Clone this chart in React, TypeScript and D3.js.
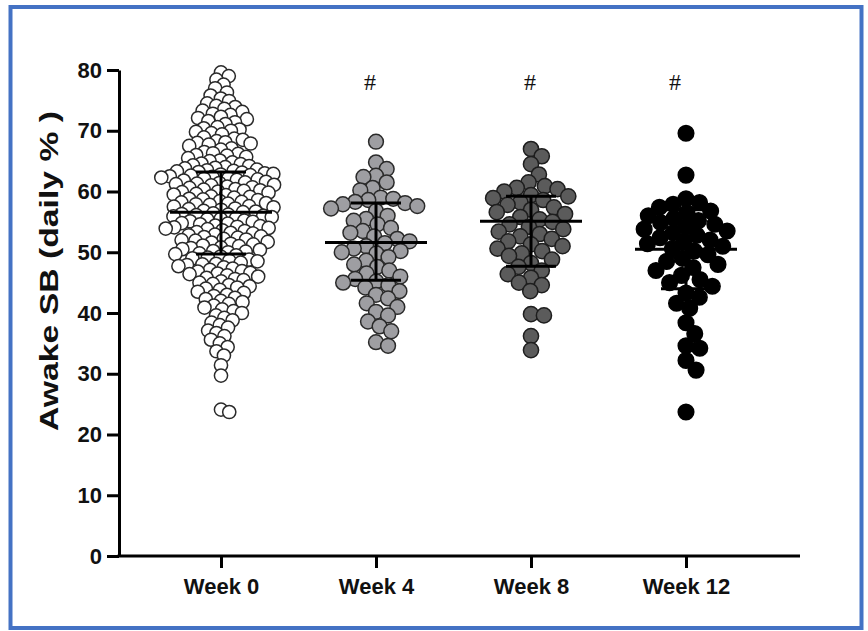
import React, { useEffect, useRef } from "react";
import * as d3 from "d3";

const categories = ["Week 0", "Week 4", "Week 8", "Week 12"];

const week0 = [
  79.6, 79.0, 78.4, 77.6, 77.0, 76.3,
  75.8, 75.3, 74.9, 74.5, 74.1,
  73.9, 73.6, 73.3, 73.1, 72.8, 72.6, 72.3, 72.1,
  71.9, 71.6, 71.4, 71.1, 70.6, 70.4, 70.2, 70.0,
  69.8, 69.6, 69.4, 68.9, 68.7, 68.5, 68.3, 68.1, 68.0,
  67.9, 67.7, 67.5, 67.1, 66.9, 66.5, 66.3, 66.2, 66.0,
  65.9, 65.7, 65.5, 65.1, 65.0, 64.8, 64.6, 64.5, 64.3, 64.2, 64.0,
  63.9, 63.8, 63.6, 63.5, 63.4, 63.3, 63.2, 63.1, 63.0, 62.9, 62.8, 62.7, 62.6, 62.5, 62.4, 62.3, 62.2, 62.1, 62.0,
  61.9, 61.8, 61.6, 61.5, 61.4, 61.3, 61.2, 61.1, 61.0, 60.8, 60.7, 60.6, 60.4, 60.3, 60.2, 60.1, 60.0,
  59.9, 59.8, 59.6, 59.5, 59.4, 59.2, 59.1, 59.0, 58.8, 58.7, 58.6, 58.4, 58.3, 58.2, 58.1, 58.0,
  57.9, 57.8, 57.6, 57.5, 57.4, 57.2, 57.1, 57.0, 56.8, 56.7, 56.6, 56.4, 56.3, 56.2, 56.1, 56.0,
  55.9, 55.8, 55.6, 55.5, 55.4, 55.2, 55.1, 55.0, 54.8, 54.7, 54.6, 54.4, 54.3, 54.2, 54.1, 54.0,
  53.9, 53.8, 53.6, 53.5, 53.3, 53.2, 53.1, 52.9, 52.8, 52.6, 52.5, 52.4, 52.2, 52.1, 52.0,
  51.9, 51.7, 51.6, 51.4, 51.3, 51.1, 51.0, 50.8, 50.7, 50.5, 50.4, 50.2, 50.1, 50.0,
  49.8, 49.7, 49.5, 49.3, 49.1, 49.0, 48.8, 48.6, 48.5, 48.3, 48.1, 48.0,
  47.9, 47.7, 47.5, 47.3, 47.1, 46.9, 46.8, 46.6, 46.5, 46.4, 46.2, 46.0,
  45.8, 45.6, 45.4, 45.2, 45.0, 44.8, 44.6, 44.4, 44.2, 44.0,
  43.8, 43.5, 43.3, 43.0, 42.8, 42.5, 42.3, 42.0,
  41.8, 41.5, 41.2, 40.9, 40.6, 40.3, 40.0,
  39.6, 39.2, 38.8, 38.4, 38.0, 37.6, 37.1, 36.7, 36.2,
  35.6, 35.0, 34.4, 33.7, 33.0, 31.4, 29.7, 24.1, 23.7
];

const week4 = [
  68.2, 64.8, 63.7, 62.6, 62.4, 61.5, 60.6, 60.2, 59.0, 58.8, 58.6, 58.3, 58.1, 57.9,
  57.6, 57.2, 56.8, 56.0, 55.5, 55.2, 54.6, 54.0, 53.5, 53.2, 52.6, 52.2, 51.8, 51.5,
  51.0, 50.6, 50.2, 50.0, 49.8, 49.2, 48.6, 48.0, 47.6, 47.0, 46.5, 46.0, 45.6, 45.2,
  45.0, 44.6, 44.2, 43.6, 43.0, 42.4, 41.6, 41.0, 40.2, 39.6, 38.6, 37.8, 37.0, 35.2, 34.6
];

const week8 = [
  67.0, 65.8, 64.5, 62.8, 61.5, 60.9, 60.6, 60.4, 60.0, 59.4, 59.2, 58.9, 58.6, 58.2,
  57.8, 57.4, 57.0, 56.6, 56.3, 55.8, 55.4, 55.0, 54.6, 54.2, 53.8, 53.4, 53.0, 52.6,
  52.2, 51.8, 51.3, 51.0, 50.6, 50.2, 49.8, 49.4, 48.8, 48.2, 47.6, 47.0, 46.4, 45.8,
  45.0, 44.6, 43.6, 39.8, 39.6, 36.2, 33.9
];

const week12 = [
  69.6, 62.7, 58.8, 58.2, 57.9, 57.4, 56.8, 56.5, 56.0, 55.6, 55.2, 54.9, 54.6, 54.2,
  53.8, 53.5, 53.2, 52.8, 52.4, 52.0, 51.8, 51.4, 51.0, 50.6, 50.2, 49.6, 49.0, 48.5,
  48.0, 47.5, 47.0, 46.2, 45.5, 45.0, 44.4, 43.3, 42.6, 41.6, 40.8, 38.4, 36.6, 34.6,
  34.2, 32.2, 30.6, 23.7
];

// mean and SD ends
const means = [56.6, 51.6, 55.1, 50.5];
const sdLow = [49.7, 45.4, 47.7, 44.0];
const sdHigh = [63.2, 58.1, 59.2, 57.0];
const marks = ["", "#", "#", "#"];
const markShift = [0, -6, -1, -11];

const fills = ["#ffffff", "#9e9ea2", "#5b5b5b", "#000000"];
const strokes = ["#2a2a2a", "#2a2a2a", "#1e1e1e", "#000000"];
const radius = [6.6, 7.4, 7.6, 7.8];
const spacing = [8.6, 12.6, 13.0, 14.0];

function swarm(values, yScale, cx, d) {
  const pts = values.map(v => ({ v: v, y: yScale(v), x: 0 }));
  pts.sort((a, b) => a.y - b.y);
  const placed = [];
  pts.forEach(p => {
    const near = placed.filter(q => Math.abs(q.y - p.y) < d);
    let cands = [0];
    near.forEach(q => {
      const dx = Math.sqrt(d * d - (q.y - p.y) * (q.y - p.y));
      cands.push(q.x + dx, q.x - dx);
    });
    cands.sort((a, b) => Math.abs(a) - Math.abs(b));
    for (const c of cands) {
      const ok = near.every(q => (q.x - c) * (q.x - c) + (q.y - p.y) * (q.y - p.y) >= d * d - 0.01);
      if (ok) { p.x = c; break; }
    }
    placed.push(p);
  });
  return pts.map(p => ({ v: p.v, x: cx + p.x, y: p.y }));
}

export default function App() {
  const ref = useRef(null);

  useEffect(() => {
    const svg = d3.select(ref.current);
    svg.selectAll("*").remove();

    const font = "'Liberation Sans', Arial, sans-serif";
    const y = d3.scaleLinear().domain([0, 80]).range([556, 70]);
    const x = d3.scalePoint().domain(categories).range([221, 686]);
    const groups = [week0, week4, week8, week12];

    // frame
    svg.append("rect")
      .attr("x", 10.5).attr("y", 7).attr("width", 851).attr("height", 621)
      .attr("fill", "none").attr("stroke", "#4472c4").attr("stroke-width", 4);

    // Y axis
    const yAxis = svg.append("g").attr("transform", "translate(119,0)")
      .call(d3.axisLeft(y).tickValues(d3.range(0, 81, 10)).tickSize(12).tickSizeOuter(0).tickPadding(5));
    yAxis.select(".domain").attr("stroke", "#000").attr("stroke-width", 3);
    yAxis.selectAll(".tick line").attr("stroke", "#000").attr("stroke-width", 3);
    yAxis.selectAll(".tick text")
      .style("font-family", font).style("font-size", "22px").style("font-weight", "bold").attr("fill", "#111");

    // X axis
    svg.append("line")
      .attr("x1", 117.5).attr("x2", 800).attr("y1", 556).attr("y2", 556)
      .attr("stroke", "#000").attr("stroke-width", 3);
    const xAxis = svg.append("g").attr("transform", "translate(0,556)")
      .call(d3.axisBottom(x).tickSize(12).tickSizeOuter(0).tickPadding(10));
    xAxis.select(".domain").remove();
    xAxis.selectAll(".tick line").attr("stroke", "#000").attr("stroke-width", 3);
    xAxis.selectAll(".tick text")
      .style("font-family", font).style("font-size", "22px").style("font-weight", "bold").attr("fill", "#111");

    // Y axis title
    svg.append("text")
      .attr("transform", "translate(58,271) rotate(-90)")
      .attr("text-anchor", "middle")
      .attr("textLength", 320)
      .attr("lengthAdjust", "spacingAndGlyphs")
      .style("font-family", font).style("font-size", "25px").style("font-weight", "bold")
      .attr("fill", "#111")
      .text("Awake SB (daily % )");

    // points
    groups.forEach((vals, i) => {
      const pts = swarm(vals, y, x(categories[i]), spacing[i]);
      svg.append("g").selectAll("circle")
        .data(pts)
        .join("circle")
        .attr("cx", d => d.x)
        .attr("cy", d => d.y)
        .attr("r", radius[i])
        .attr("fill", fills[i])
        .attr("stroke", strokes[i])
        .attr("stroke-width", 1.5);
    });

    // mean and SD
    const bars = svg.append("g").attr("stroke", "#000").attr("stroke-width", 3);
    categories.forEach((c, i) => {
      const cx = x(c);
      bars.append("line").attr("x1", cx - 51).attr("x2", cx + 51).attr("y1", y(means[i])).attr("y2", y(means[i]));
      bars.append("line").attr("x1", cx).attr("x2", cx).attr("y1", y(sdLow[i])).attr("y2", y(sdHigh[i]));
      bars.append("line").attr("x1", cx - 25).attr("x2", cx + 25).attr("y1", y(sdLow[i])).attr("y2", y(sdLow[i]));
      bars.append("line").attr("x1", cx - 25).attr("x2", cx + 25).attr("y1", y(sdHigh[i])).attr("y2", y(sdHigh[i]));
    });

    // significance marks
    svg.append("g").selectAll("text")
      .data(categories)
      .join("text")
      .attr("x", (d, i) => x(d) + markShift[i])
      .attr("y", 90)
      .attr("text-anchor", "middle")
      .style("font-family", "'Liberation Serif', 'Times New Roman', serif")
      .style("font-size", "24px")
      .attr("fill", "#111")
      .text((d, i) => marks[i]);
  }, []);

  return (
    <svg ref={ref} width={868} height={631}
      style={{ position: "absolute", left: 0, top: 0, background: "#fff" }}></svg>
  );
}
